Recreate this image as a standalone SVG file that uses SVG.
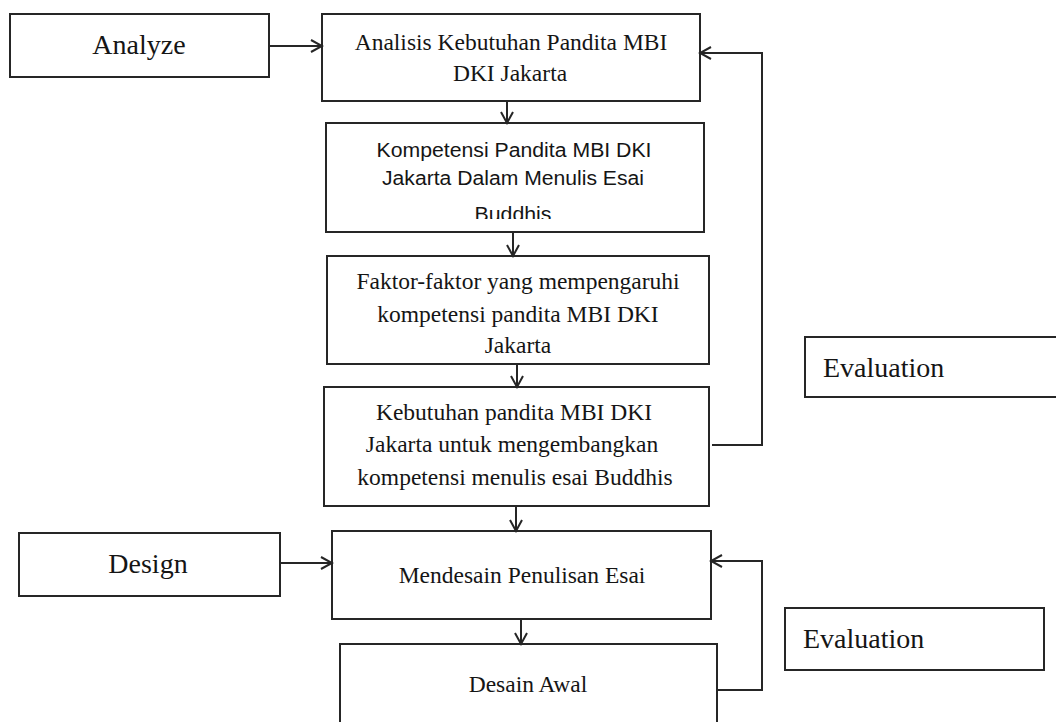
<svg xmlns="http://www.w3.org/2000/svg" width="1056" height="722" viewBox="0 0 1056 722">
<style>
.box{fill:#fff;stroke:#262626;stroke-width:2}
.t{font-family:"Liberation Serif","Times New Roman",serif;font-size:23.5px;fill:#151515;text-anchor:middle}
.lbl{font-family:"Liberation Serif","Times New Roman",serif;font-size:28px;fill:#151515}
.s{font-family:"Liberation Sans",Arial,sans-serif;font-size:19.5px;fill:#151515;text-anchor:middle}
.c{fill:none;stroke:#262626;stroke-width:2}
</style>
<defs>
<marker id="ah" markerWidth="14" markerHeight="14" refX="12" refY="7" orient="auto" markerUnits="userSpaceOnUse">
<path d="M1,1 L12,7 L1,13" fill="none" stroke="#262626" stroke-width="2"/>
</marker>
<clipPath id="clip2"><rect x="326" y="123" width="378" height="96"/></clipPath>
</defs>
<rect width="1056" height="722" fill="#fff"/>
<g id="analyze"><rect class="box" x="10" y="14" width="259" height="63"/><text class="lbl" x="139" y="54" text-anchor="middle">Analyze</text></g>
<g id="n1"><rect class="box" x="322" y="14" width="378" height="87"/>
<text class="t" x="511" y="50">Analisis Kebutuhan Pandita MBI</text>
<text class="t" x="510" y="81">DKI Jakarta</text></g>
<g id="n2"><rect class="box" x="326" y="123" width="378" height="109"/>
<text class="s" x="514" y="157" textLength="275" lengthAdjust="spacingAndGlyphs">Kompetensi Pandita MBI DKI</text>
<text class="s" x="513" y="185" textLength="262" lengthAdjust="spacingAndGlyphs">Jakarta Dalam Menulis Esai</text>
<text class="s" x="513" y="221" textLength="77" lengthAdjust="spacingAndGlyphs" clip-path="url(#clip2)">Buddhis</text></g>
<g id="n3"><rect class="box" x="327" y="256" width="382" height="108"/>
<text class="t" x="518" y="289">Faktor-faktor yang mempengaruhi</text>
<text class="t" x="518" y="322">kompetensi pandita MBI DKI</text>
<text class="t" x="518" y="353">Jakarta</text></g>
<g id="n4"><rect class="box" x="324" y="387" width="385" height="119"/>
<text class="t" x="514" y="420">Kebutuhan pandita MBI DKI</text>
<text class="t" x="512" y="452">Jakarta untuk mengembangkan</text>
<text class="t" x="515" y="485">kompetensi menulis esai Buddhis</text></g>
<g id="design"><rect class="box" x="19" y="533" width="261" height="63"/><text class="lbl" x="148" y="573" text-anchor="middle">Design</text></g>
<g id="n5"><rect class="box" x="332" y="531" width="379" height="88"/>
<text class="t" x="522" y="583">Mendesain Penulisan Esai</text></g>
<g id="n6"><rect class="box" x="340" y="644" width="377" height="90"/>
<text class="t" x="528" y="692">Desain Awal</text></g>
<g id="eval1"><rect class="box" x="805" y="337" width="260" height="60"/><text class="lbl" x="823" y="377">Evaluation</text></g>
<g id="eval2"><rect class="box" x="785" y="608" width="259" height="62"/><text class="lbl" x="803" y="648">Evaluation</text></g>
<g id="connectors">
<path class="c" d="M269,46 L322,46" marker-end="url(#ah)"/>
<path class="c" d="M507,101 L507,123" marker-end="url(#ah)"/>
<path class="c" d="M513,232 L513,256" marker-end="url(#ah)"/>
<path class="c" d="M517,364 L517,387" marker-end="url(#ah)"/>
<path class="c" d="M516,506 L516,531" marker-end="url(#ah)"/>
<path class="c" d="M521,619 L521,644" marker-end="url(#ah)"/>
<path class="c" d="M280,563 L332,563" marker-end="url(#ah)"/>
<path class="c" d="M712,445 L762,445 L762,53 L700,53" marker-end="url(#ah)"/>
<path class="c" d="M716,690 L762,690 L762,561 L711,561" marker-end="url(#ah)"/>
</g>
</svg>
